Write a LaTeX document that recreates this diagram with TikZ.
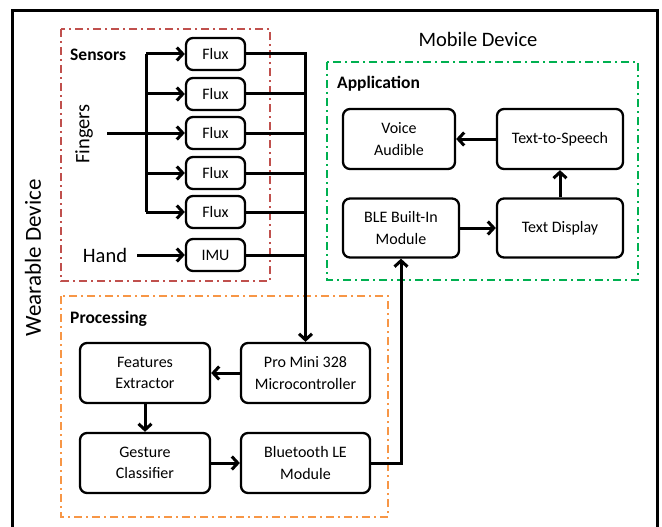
\documentclass[tikz,border=0pt]{standalone}
\usepackage{fontspec}
\setmainfont{Carlito}
\usetikzlibrary{arrows.meta}
\definecolor{redg}{HTML}{C0504D}
\definecolor{orng}{HTML}{F79646}
\definecolor{grn}{HTML}{00B050}
\tikzset{
  blk/.style={draw, line width=2.3pt, rounded corners=7pt, align=center, inner sep=0pt,
    font=\fontsize{16}{21.5}\selectfont},
  flux/.style={blk, minimum width=59pt, minimum height=32pt},
  big/.style={blk, minimum height=60pt},
  arr/.style={line width=3pt, -{Straight Barb[length=6pt,width=13pt]}},
  ln/.style={line width=3pt},
  grp/.style={line width=2pt, dash pattern=on 8pt off 4pt on 2pt off 4pt},
  lbl/.style={font=\bfseries\fontsize{17.5}{20}\selectfont, anchor=west, inner sep=0pt},
  ttl/.style={font=\fontsize{20.5}{24}\selectfont, inner sep=0pt}
}
\begin{document}
\begin{tikzpicture}[x=1pt,y=-1pt]
\useasboundingbox (0,0) rectangle (662,527);
\fill[white] (0,0) rectangle (662,527);
% outer frame
\draw[line width=3pt] (12,527) -- (12,11) -- (657,11) -- (657,527);
% group boxes
\draw[grp, redg] (61,29) rectangle (270,281);
\draw[grp, orng] (61,296) rectangle (388,517);
\draw[grp, grn] (327,62) rectangle (638,280);
% titles
\node[ttl, rotate=90, font=\fontsize{23}{26}\selectfont] (wear) at (33,258) {Wearable Device};
\node[ttl] (mob) at (478,39) {Mobile Device};
\node[lbl] (sens) at (70,55) {Sensors};
\node[lbl] (proc) at (70,319) {Processing};
\node[lbl] (app) at (337,84) {Application};
% sensors
\node[flux] (f1) at (215.5,54) {Flux};
\node[flux] (f2) at (215.5,94) {Flux};
\node[flux] (f3) at (215.5,133) {Flux};
\node[flux] (f4) at (215.5,173) {Flux};
\node[flux] (f5) at (215.5,212) {Flux};
\node[flux] (imu) at (215.5,255) {IMU};
\node[ttl, rotate=90] (fing) at (84,134) {Fingers};
\node[ttl] (hand) at (105,255) {Hand};
\coordinate (forkT) at (146,54);
\coordinate (forkB) at (146,212);
\coordinate (forkM) at (146,133);
\coordinate (fingIn) at (107,133);
\coordinate (handOut) at (137,255);
% processing
\node[big, minimum width=130pt] (fe) at (145,373) {Features\\Extractor};
\node[big, minimum width=129pt] (pro) at (305.5,373) {Pro Mini 328\\Microcontroller};
\node[big, minimum width=130pt] (gc) at (145,463) {Gesture\\Classifier};
\node[big, minimum width=129pt] (bt) at (305.5,463) {Bluetooth LE\\Module};
% application
\node[big, minimum width=112pt] (voice) at (399,139) {Voice\\Audible};
\node[big, minimum width=126pt] (tts) at (560,139) {Text-to-Speech};
\node[big, minimum width=116pt, minimum height=59pt] (ble) at (401,228) {BLE Built-In\\Module};
\node[big, minimum width=126pt, minimum height=59pt] (td) at (560,228) {Text Display};
% connectors
\draw[ln] (fingIn) -- (forkM);
\draw[ln] (forkT) -- (forkB);
\foreach \i in {1,...,5} {
  \draw[arr] (forkT |- f\i.west) -- (f\i.west);
}
\draw[arr] (handOut) -- (imu.west);
\draw[arr] (f1.east) -| (pro.north);
\foreach \n in {f2,f3,f4,f5,imu} {
  \draw[ln] (\n.east) -- (\n.east -| pro.north);
}
\draw[arr] (pro.west) -- (fe.east);
\draw[arr] (fe.south) -- (gc.north);
\draw[arr] (gc.east) -- (bt.west);
\draw[arr] (bt.east) -| (ble.south);
\draw[arr] (ble.east) -- (td.west);
\draw[arr] (td.north) -- (tts.south);
\draw[arr] (tts.west) -- (voice.east);
\end{tikzpicture}
\end{document}
